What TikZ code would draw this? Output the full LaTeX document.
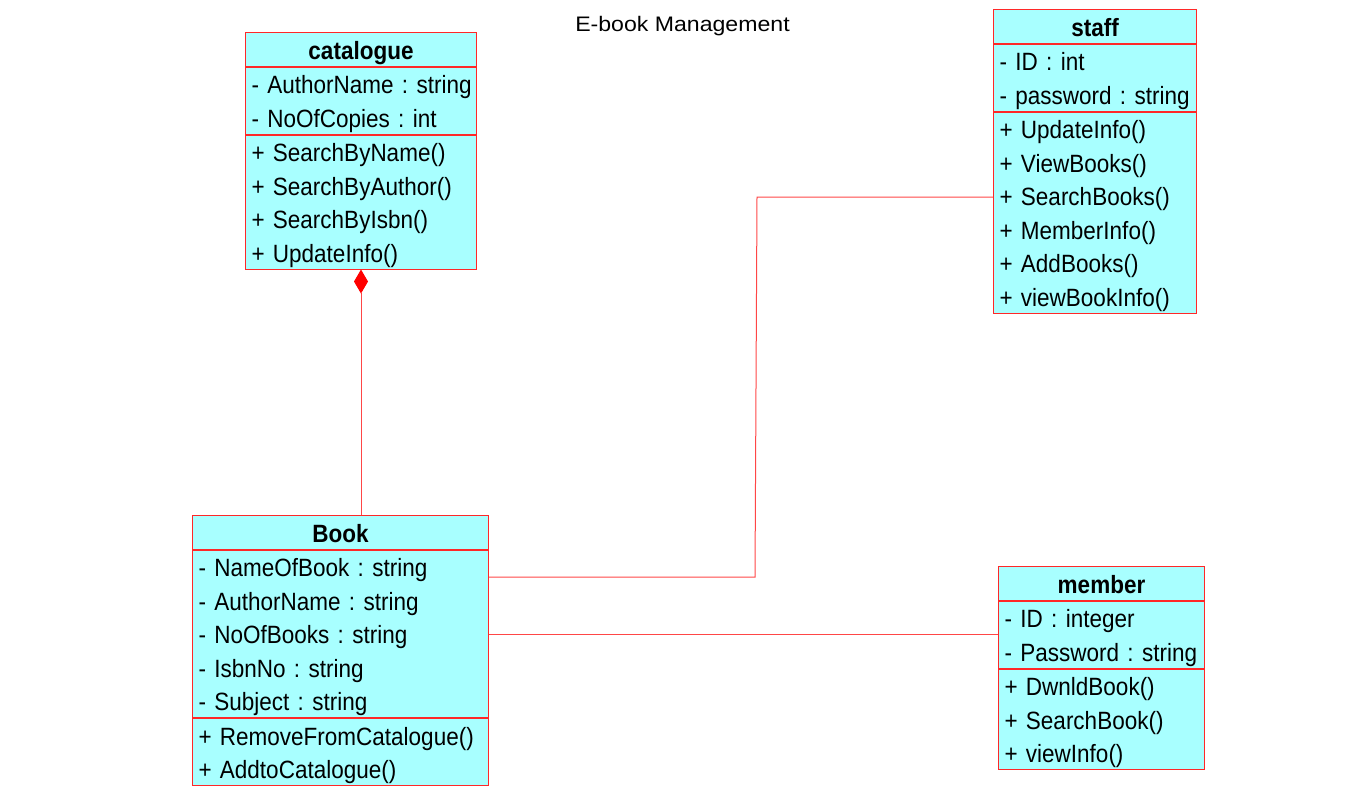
\documentclass[tikz,border=0pt]{standalone}
\usepackage{fontspec}
\setmainfont[FakeStretch=0.9,WordSpace=0.75]{Liberation Sans}
\newfontfamily\headfont[FakeStretch=1.1]{Liberation Sans}
\usetikzlibrary{positioning,arrows.meta}

\definecolor{boxred}{RGB}{255,40,40}
\definecolor{linkred}{RGB}{255,70,70}
\definecolor{boxcyan}{RGB}{168,255,255}
\newcommand{\rw}[1]{\rule[-7pt]{0pt}{33.5pt}\mbox{#1}}

\begin{document}
\frenchspacing
\begin{tikzpicture}[x=1pt,y=-1pt,
    classname/.style={draw=boxred,fill=boxcyan,line width=1pt,inner sep=0pt,
      minimum height=33.5pt,font=\fontsize{25}{33.5}\selectfont\bfseries},
    classpart/.style={draw=boxred,fill=boxcyan,line width=1pt,inner xsep=6pt,
      inner ysep=0pt,align=left,font=\fontsize{25}{33.5}\selectfont},
    assoc/.style={draw=linkred,line width=1pt}]
  \useasboundingbox (0,0) rectangle (1347,796);

  \node[anchor=base,font=\headfont\fontsize{21}{25}\selectfont] (title) at (682.5,31.7) {E-book Management};

  % catalogue
  \node[classname,minimum width=231pt,anchor=north west] (cat) at (245,32) {\rw{catalogue}};
  \node[classpart,text width=219pt,below=0pt of cat] (cat-attr)
    {\rw{- AuthorName : string}\\\rw{- NoOfCopies : int}};
  \node[classpart,text width=219pt,below=0pt of cat-attr] (cat-op)
    {\rw{+ SearchByName()}\\\rw{+ SearchByAuthor()}\\\rw{+ SearchByIsbn()}\\\rw{+ UpdateInfo()}};

  % Book
  \node[classname,minimum width=296pt,anchor=north west] (book) at (192,515) {\rw{Book}};
  \node[classpart,text width=284pt,below=0pt of book] (book-attr)
    {\rw{- NameOfBook : string}\\\rw{- AuthorName : string}\\\rw{- NoOfBooks : string}\\
     \rw{- IsbnNo : string}\\\rw{- Subject : string}};
  \node[classpart,text width=284pt,below=0pt of book-attr] (book-op)
    {\rw{+ RemoveFromCatalogue()}\\\rw{+ AddtoCatalogue()}};

  % staff
  \node[classname,minimum width=203pt,anchor=north west] (staff) at (993,9) {\rw{staff}};
  \node[classpart,text width=191pt,below=0pt of staff] (staff-attr)
    {\rw{- ID : int}\\\rw{- password : string}};
  \node[classpart,text width=191pt,below=0pt of staff-attr] (staff-op)
    {\rw{+ UpdateInfo()}\\\rw{+ ViewBooks()}\\\rw{+ SearchBooks()}\\\rw{+ MemberInfo()}\\
     \rw{+ AddBooks()}\\\rw{+ viewBookInfo()}};

  % member
  \node[classname,minimum width=206pt,anchor=north west] (member) at (998,566) {\rw{member}};
  \node[classpart,text width=194pt,below=0pt of member] (member-attr)
    {\rw{- ID : integer}\\\rw{- Password : string}};
  \node[classpart,text width=194pt,below=0pt of member-attr] (member-op)
    {\rw{+ DwnldBook()}\\\rw{+ SearchBook()}\\\rw{+ viewInfo()}};

  % links
  \draw[assoc,{Diamond[length=24pt,width=14pt,fill=red,color=red]}-] (cat-op.south) -- (cat-op.south |- book.north);

  \coordinate (kneeA) at (755,577);
  \coordinate (kneeB) at (757,197);
  \draw[assoc] (book-attr.east |- kneeA) -- (kneeA) -- (kneeB) -- (staff-op.west |- kneeB);

  \draw[assoc] (member-attr.west) -- (member-attr.west -| book-attr.east);
\end{tikzpicture}
\end{document}
